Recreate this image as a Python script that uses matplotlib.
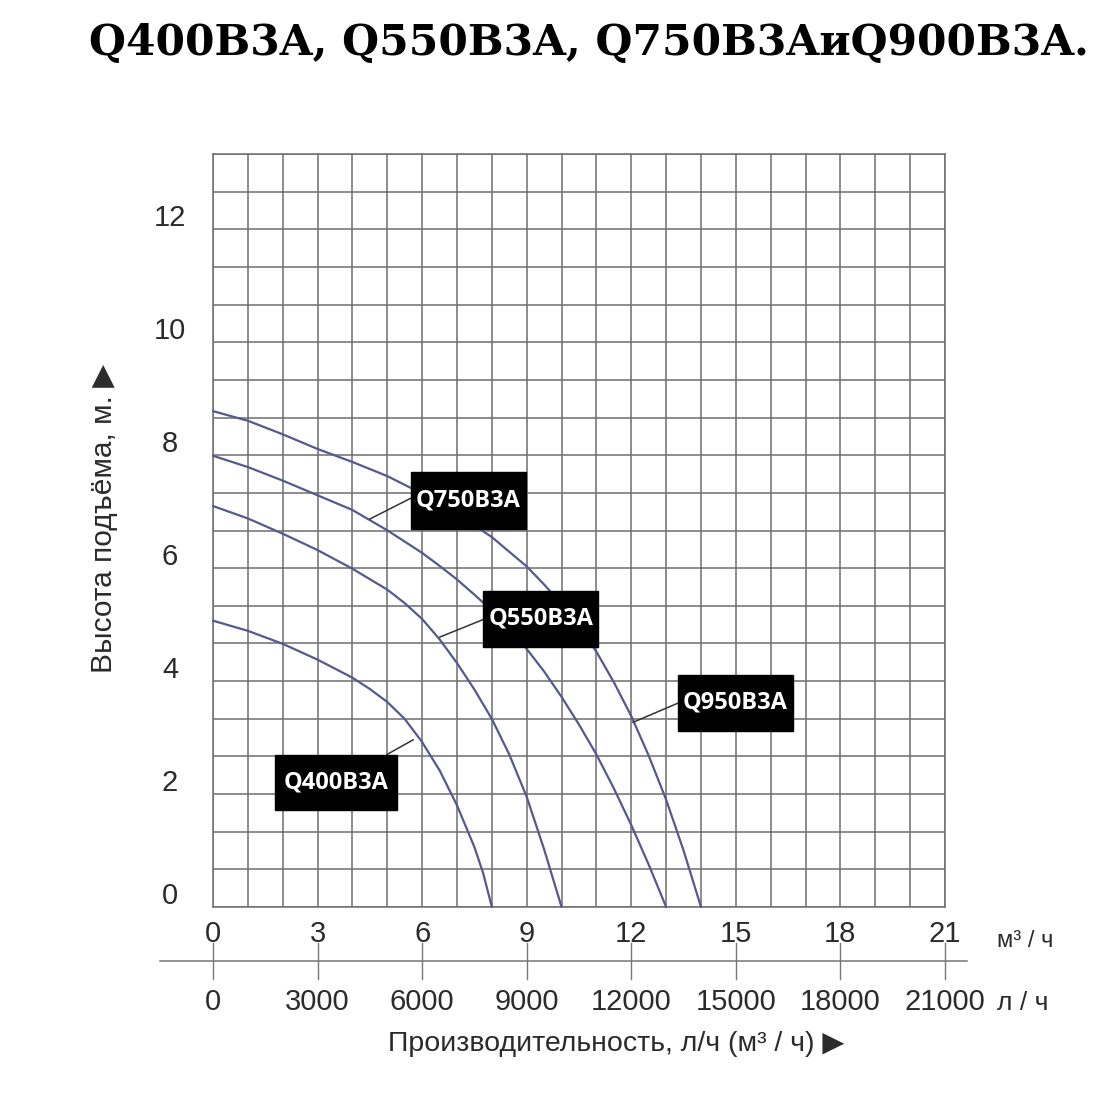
import matplotlib
matplotlib.use("Agg")
import matplotlib.pyplot as plt
import matplotlib.transforms as mtransforms
from matplotlib.patches import Rectangle

# pump curves: flow in m3/h, head in m
q950_x = [0, 1, 2, 3, 4, 5, 6, 7, 8, 9, 9.5, 10, 10.5, 11, 11.5, 12, 12.5, 13, 13.5, 14]
q950_y = [8.78, 8.61, 8.37, 8.11, 7.88, 7.63, 7.32, 6.96, 6.55, 6.03, 5.71, 5.36, 4.96,
          4.52, 3.98, 3.38, 2.68, 1.9, 1.0, 0]

q750_x = [0, 1, 2, 3, 4, 5, 6, 6.5, 7, 7.5, 8, 8.5, 9, 9.5, 10, 10.5, 11, 11.5, 12, 12.5, 13]
q750_y = [7.99, 7.79, 7.55, 7.29, 7.03, 6.67, 6.27, 6.04, 5.8, 5.53, 5.25, 4.93, 4.57,
          4.17, 3.72, 3.23, 2.7, 2.1, 1.45, 0.75, 0]

q550_x = [0, 1, 2, 3, 4, 5, 5.5, 6, 6.5, 7, 7.5, 8, 8.5, 9, 9.5, 10]
q550_y = [7.1, 6.88, 6.61, 6.32, 5.99, 5.62, 5.38, 5.1, 4.74, 4.32, 3.85, 3.33, 2.7,
          1.95, 1.02, 0]

q400_x = [0, 1, 2, 3, 4, 4.5, 5, 5.5, 6, 6.5, 7, 7.5, 7.75, 8]
q400_y = [5.07, 4.89, 4.66, 4.38, 4.06, 3.86, 3.63, 3.33, 2.92, 2.42, 1.8, 1.06, 0.6, 0]

curve_names = ["Q950B3A", "Q750B3A", "Q550B3A", "Q400B3A"]

y_ticks = [0, 2, 4, 6, 8, 10, 12]
x_ticks_m3 = [0, 3, 6, 9, 12, 15, 18, 21]
x_ticks_l = [0, 3000, 6000, 9000, 12000, 15000, 18000, 21000]

# label boxes: (center x, center y, width, height), leader from box -> curve
boxes = {
    "Q750B3A": ((7.33, 7.2, 3.3, 1.02), (5.68, 7.24), (4.5, 6.87)),
    "Q550B3A": ((9.4, 5.1, 3.3, 0.99), (7.75, 5.09), (6.51, 4.78)),
    "Q950B3A": ((14.99, 3.62, 3.3, 0.99), (13.34, 3.61), (12.05, 3.27)),
    "Q400B3A": ((3.53, 2.2, 3.5, 0.97), (4.99, 2.7), (5.74, 2.96)),
}

INK = "#2b2b2b"
GRIDC = "#6e6e6e"
CURVE = "#54598f"
SANS = ["Liberation Sans", "DejaVu Sans"]

fig = plt.figure(figsize=(11, 11), dpi=100)
ax = fig.add_axes([213 / 1100, 1 - 907 / 1100, 732 / 1100, 753 / 1100])
ax.set_xlim(0, 21)
ax.set_ylim(0, 40 / 3)

for v in range(0, 22):
    ax.axvline(v, color=GRIDC, lw=1.1, zorder=1)
for i in range(0, 21):
    ax.axhline(i * 2 / 3, color=GRIDC, lw=1.1, zorder=1)
for s in ax.spines.values():
    s.set_color(GRIDC)
    s.set_linewidth(1.1)

for xs, ys in [(q950_x, q950_y), (q750_x, q750_y), (q550_x, q550_y), (q400_x, q400_y)]:
    ax.plot(xs, ys, color=CURVE, lw=1.6, zorder=3, clip_on=False,
            solid_joinstyle="round", solid_capstyle="round")

for name in curve_names:
    (cx, cy, w, h), p0, p1 = boxes[name]
    ax.plot([p0[0], p1[0]], [p0[1], p1[1]], color="#333333", lw=1.1, zorder=4)
    ax.add_patch(Rectangle((cx - w / 2, cy - h / 2), w, h, facecolor="black",
                           edgecolor="black", zorder=5))
    ax.text(cx, cy, name, color="white", fontsize=17, fontweight="bold",
            family=["Open Sans", "DejaVu Sans"], ha="center", va="center", zorder=6)

# y tick labels, sitting just above their grid value
ax.set_yticks([])
ytrans = mtransforms.blended_transform_factory(ax.transAxes, ax.transData)
ytrans = mtransforms.offset_copy(ytrans, fig=fig, x=0, y=3, units="dots")
for v in y_ticks:
    ax.text(-0.0587, v, str(v), transform=ytrans, ha="center", va="baseline",
            fontsize=21, color=INK, family=SANS)

# m3/h axis
ax.set_xticks(x_ticks_m3)
ax.set_xticklabels([str(v) for v in x_ticks_m3], fontsize=21, color=INK, family=SANS)
ax.tick_params(axis="x", length=0, pad=9)

# l/h scale drawn under the chart
btrans = mtransforms.blended_transform_factory(ax.transData, ax.transAxes)
ax.plot([-1.52, 21.63], [-0.0717, -0.0717], transform=btrans, color="#777777",
        lw=1.1, clip_on=False)
for v, lab in zip(x_ticks_m3, x_ticks_l):
    ax.plot([v, v], [-0.0478, -0.0956], transform=btrans, color="#777777",
            lw=1.0, clip_on=False)
    ax.text(v, -0.108, str(lab), transform=btrans, ha="center", va="top",
            fontsize=21, color=INK, family=SANS)

fig.text(997 / 1100, 1 - 941 / 1100, "м³ / ч", fontsize=17, color=INK, family=SANS,
         ha="left", va="center")
fig.text(997 / 1100, 1 - 1003 / 1100, "л / ч", fontsize=19, color=INK, family=SANS,
         ha="left", va="center")

fig.text(616 / 1100, 1 - 1044 / 1100, "Производительность, л/ч (м³ / ч) ▶", fontsize=20.5,
         color=INK, family=SANS, ha="center", va="center")
fig.text(104 / 1100, 1 - 518 / 1100, "Высота подъёма, м. ▶", fontsize=21.5,
         color=INK, family=SANS, ha="center", va="center", rotation=90)

fig.text(589 / 1100, 1 - 43 / 1100, "Q400B3A, Q550B3A, Q750B3AиQ900B3A.", fontsize=30.5,
         fontweight="bold", family=["DejaVu Serif"], color="black",
         ha="center", va="center")

fig.savefig("out.png", dpi=100, facecolor="white")
